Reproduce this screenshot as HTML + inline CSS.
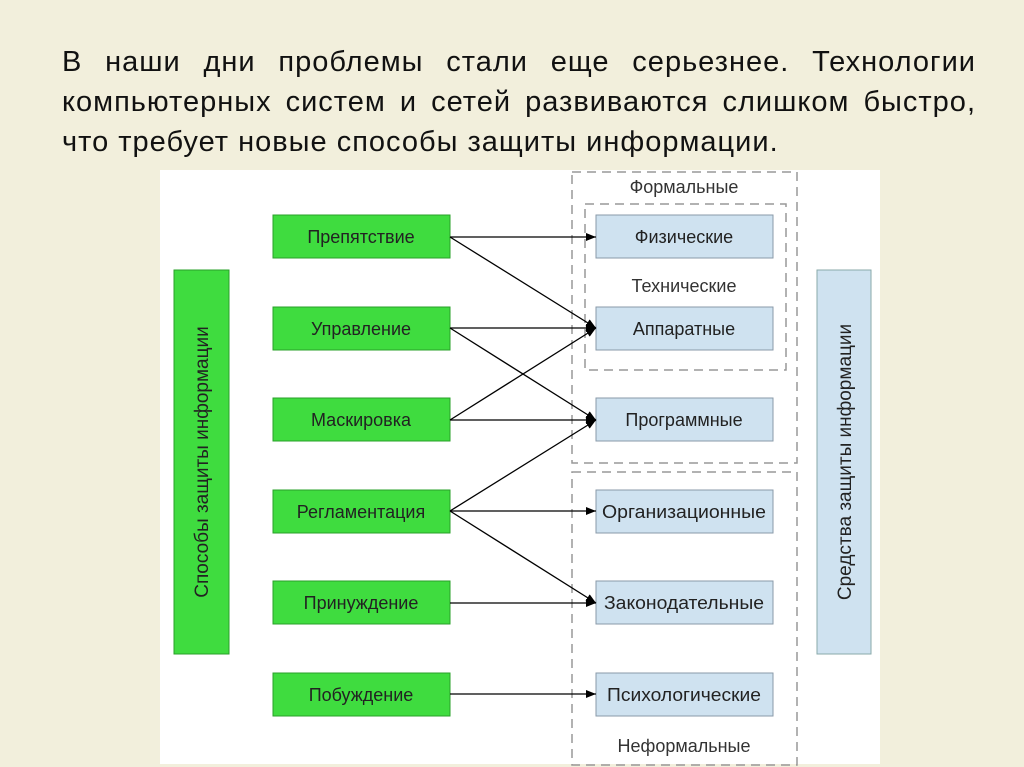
<!DOCTYPE html>
<html><head><meta charset="utf-8"><style>
body{margin:0;width:1024px;height:767px;background:#f2efdc;font-family:"Liberation Sans","DejaVu Sans",sans-serif;position:relative;overflow:hidden}
.l{position:absolute;left:62px;width:914px;font-size:29px;letter-spacing:1px;line-height:40px;color:#111;text-align:justify;text-align-last:justify;white-space:nowrap}
</style></head><body>
<div class="l" style="top:42px">В наши дни проблемы стали еще серьезнее. Технологии</div>
<div class="l" style="top:82px">компьютерных систем и сетей развиваются слишком быстро,</div>
<div class="l" style="top:122px;text-align-last:left">что требует новые способы защиты информации.</div>
<svg style="position:absolute;left:0;top:0" width="1024" height="767" font-family="Liberation Sans, sans-serif" font-size="18">
<defs><marker id="a" markerWidth="10" markerHeight="8" refX="10" refY="4" orient="auto" markerUnits="userSpaceOnUse"><path d="M0,0L10,4L0,8z" fill="#000"/></marker></defs>
<rect x="160" y="170" width="720" height="594" fill="#fff"/>
<g fill="none" stroke="#999" stroke-width="1.5" stroke-dasharray="9,6">
<rect x="572" y="172" width="225" height="291"/>
<rect x="585" y="204" width="201" height="166"/>
<rect x="572" y="472" width="225" height="293"/>
</g>
<g fill="#333" text-anchor="middle" font-size="18">
<text x="684" y="193">Формальные</text>
<text x="684" y="292">Технические</text>
<text x="684" y="752">Неформальные</text>
</g>
<rect x="174" y="270" width="55" height="384" fill="#3fdc3f" stroke="#2aa02a"/>
<rect x="817" y="270" width="54" height="384" fill="#cfe2f0" stroke="#8aa"/>
<text transform="translate(208,462) rotate(-90)" text-anchor="middle" fill="#222" font-size="19">Способы защиты информации</text>
<text transform="translate(851,462) rotate(-90)" text-anchor="middle" fill="#222" font-size="19">Средства защиты информации</text>
<g fill="#3fdc3f" stroke="#2aa02a">
<rect x="273" y="215" width="177" height="43"/><rect x="273" y="307" width="177" height="43"/><rect x="273" y="398" width="177" height="43"/><rect x="273" y="490" width="177" height="43"/><rect x="273" y="581" width="177" height="43"/><rect x="273" y="673" width="177" height="43"/>
</g>
<g fill="#cfe2f0" stroke="#8a9aa8">
<rect x="596" y="215" width="177" height="43"/><rect x="596" y="307" width="177" height="43"/><rect x="596" y="398" width="177" height="43"/><rect x="596" y="490" width="177" height="43"/><rect x="596" y="581" width="177" height="43"/><rect x="596" y="673" width="177" height="43"/>
</g>
<g fill="#222" text-anchor="middle">
<text x="361" y="243">Препятствие</text><text x="361" y="335">Управление</text><text x="361" y="426">Маскировка</text><text x="361" y="518">Регламентация</text><text x="361" y="609">Принуждение</text><text x="361" y="701">Побуждение</text>
<text x="684" y="243">Физические</text><text x="684" y="335">Аппаратные</text><text x="684" y="426">Программные</text><text x="684" y="518" textLength="164" lengthAdjust="spacingAndGlyphs">Организационные</text><text x="684" y="609" textLength="160" lengthAdjust="spacingAndGlyphs">Законодательные</text><text x="684" y="701" textLength="154" lengthAdjust="spacingAndGlyphs">Психологические</text>
</g>
<g stroke="#000" stroke-width="1.3" marker-end="url(#a)">
<line x1="450" y1="237" x2="596" y2="237"/><line x1="450" y1="237" x2="596" y2="328"/>
<line x1="450" y1="328" x2="596" y2="328"/><line x1="450" y1="328" x2="596" y2="420"/>
<line x1="450" y1="420" x2="596" y2="328"/><line x1="450" y1="420" x2="596" y2="420"/>
<line x1="450" y1="511" x2="596" y2="420"/><line x1="450" y1="511" x2="596" y2="511"/><line x1="450" y1="511" x2="596" y2="603"/>
<line x1="450" y1="603" x2="596" y2="603"/><line x1="450" y1="694" x2="596" y2="694"/>
</g>
</svg>
</body></html>
